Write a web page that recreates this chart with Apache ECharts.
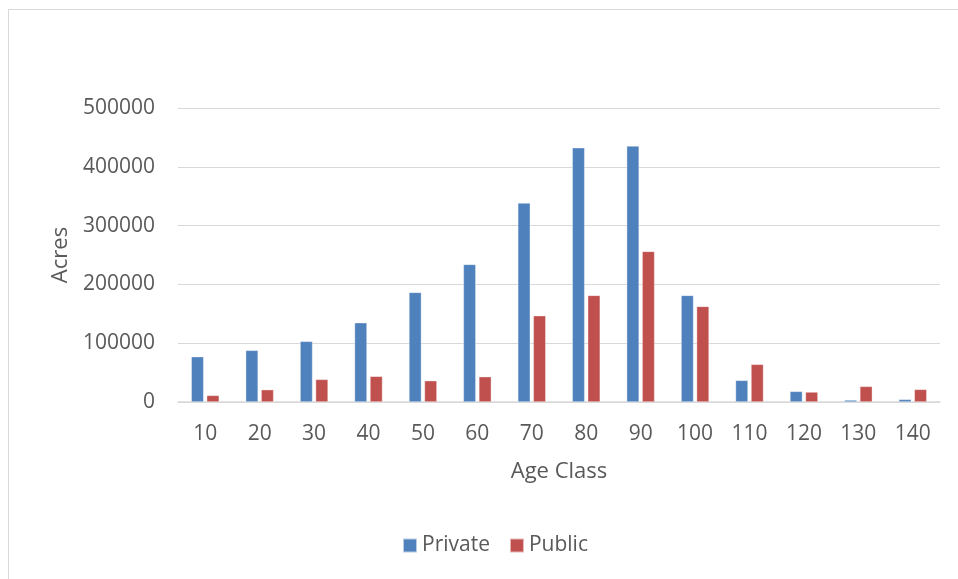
<!DOCTYPE html>
<html>
<head>
<meta charset="utf-8">
<script src="https://cdn.jsdelivr.net/npm/echarts@6/dist/echarts.min.js"></script>
<style>
  html, body { margin: 0; padding: 0; background: #fff; }
  #frame { position: absolute; left: 8px; top: 9px; width: 980px; height: 600px;
           border: 1px solid #d9d9d9; box-sizing: border-box; }
  #chart { position: absolute; left: 0; top: 0; width: 958px; height: 579px; }
</style>
</head>
<body>
<div id="frame"></div>
<div id="chart"></div>
<script>
// Forest acreage by stand age class and ownership
const ageClasses = ['10', '20', '30', '40', '50', '60', '70', '80', '90', '100', '110', '120', '130', '140'];
const privateAcres = [77100, 87900, 103200, 134900, 186500, 234100, 338400, 432500, 435400, 181400, 36800, 18100, 3400, 4500];
const publicAcres = [11300, 21000, 38500, 43700, 36300, 43100, 146800, 181400, 256200, 162700, 64100, 17000, 26600, 21500];
const yTicks = { min: 0, max: 500000, step: 100000 };

const FONT = 'Open Sans';
const TEXT = '#595959';

const chart = echarts.init(document.getElementById('chart'), null, { renderer: 'canvas' });

const barStyle = (color) => ({ color: color, borderColor: 'rgba(255,255,255,0.6)', borderWidth: 0.6 });

chart.setOption({
  animation: false,
  backgroundColor: 'transparent',
  textStyle: { fontFamily: FONT, color: TEXT },
  grid: { left: 178, right: 18, top: 108, bottom: 177, containLabel: false },
  legend: {
    data: ['Private', 'Public'],
    top: 530,
    left: 397,
    icon: 'rect',
    itemWidth: 14,
    itemHeight: 14,
    itemGap: 19,
    textStyle: { fontFamily: FONT, fontSize: 21, color: TEXT }
  },
  xAxis: {
    type: 'category',
    data: ageClasses,
    name: 'Age Class',
    nameLocation: 'middle',
    nameGap: 59,
    nameTextStyle: { fontFamily: FONT, fontSize: 22, color: TEXT },
    axisLine: { lineStyle: { color: '#d9d9d9', width: 1.5 } },
    axisTick: { show: false },
    axisLabel: { fontFamily: FONT, fontSize: 21, color: TEXT, margin: 22 }
  },
  yAxis: {
    type: 'value',
    min: yTicks.min,
    max: yTicks.max,
    interval: yTicks.step,
    name: 'Acres',
    nameLocation: 'middle',
    nameRotate: 90,
    nameGap: 102,
    nameTextStyle: { fontFamily: FONT, fontSize: 22, color: TEXT },
    axisLine: { show: false },
    axisTick: { show: false },
    splitLine: { lineStyle: { color: '#d9d9d9', width: 1.2 } },
    axisLabel: { fontFamily: FONT, fontSize: 21, color: TEXT, margin: 23,
                 formatter: (v) => String(v) }
  },
  series: [
    { name: 'Private', type: 'bar', data: privateAcres, barWidth: 12.5, barGap: '24%',
      itemStyle: barStyle('#4f81bd') },
    { name: 'Public', type: 'bar', data: publicAcres, barWidth: 12.5, barGap: '24%',
      itemStyle: barStyle('#c0504d') }
  ]
});
</script>
</body>
</html>
